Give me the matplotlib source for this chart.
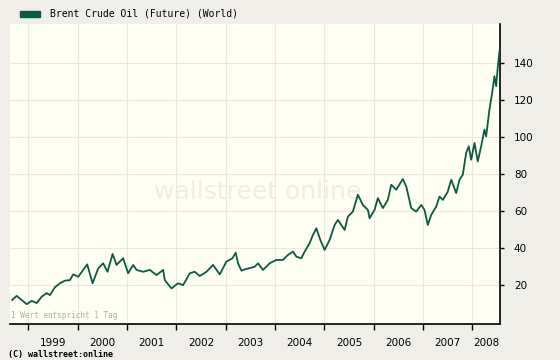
import matplotlib
matplotlib.use("Agg")
import matplotlib.pyplot as plt
import numpy as np

# values (decimal year, USD)
dates = [1998.676, 1998.765, 1998.968, 1999.069, 1999.170, 1999.271, 1999.372, 1999.439,
         1999.540, 1999.642, 1999.743, 1999.844, 1999.911, 2000.012, 2000.113, 2000.194,
         2000.304, 2000.417, 2000.518, 2000.607, 2000.709, 2000.789, 2000.923, 2001.024,
         2001.126, 2001.194, 2001.328, 2001.464, 2001.599, 2001.733, 2001.767, 2001.903,
         2002.036, 2002.138, 2002.273, 2002.374, 2002.476, 2002.611, 2002.745, 2002.881,
         2003.016, 2003.138, 2003.204, 2003.251, 2003.320, 2003.387, 2003.589, 2003.656,
         2003.757, 2003.893, 2004.028, 2004.162, 2004.263, 2004.364, 2004.433, 2004.534,
         2004.601, 2004.702, 2004.769, 2004.838, 2004.919, 2005.006, 2005.107, 2005.209,
         2005.275, 2005.411, 2005.478, 2005.579, 2005.680, 2005.781, 2005.883, 2005.917,
         2006.018, 2006.085, 2006.186, 2006.287, 2006.356, 2006.457, 2006.591, 2006.660,
         2006.761, 2006.862, 2006.964, 2007.030, 2007.097, 2007.166, 2007.267, 2007.334,
         2007.401, 2007.502, 2007.571, 2007.672, 2007.739, 2007.806, 2007.874, 2007.927,
         2007.976, 2008.043, 2008.109, 2008.178, 2008.245, 2008.279, 2008.346, 2008.401,
         2008.447, 2008.482, 2008.514, 2008.549]
prices = [12.0, 14.2, 9.7, 11.5, 10.3, 13.7, 15.7, 14.6,
          18.8, 21.0, 22.4, 22.7, 25.8, 24.5, 28.2, 31.2,
          21.0, 29.0, 31.8, 27.2, 36.8, 30.9, 34.5, 26.4,
          30.9, 28.2, 27.2, 28.2, 25.4, 28.2, 22.7, 18.2,
          21.0, 20.0, 26.4, 27.2, 24.9, 27.2, 30.9, 25.8,
          32.7, 34.5, 37.5, 31.8, 27.8, 28.5, 29.9, 31.8,
          28.2, 31.8, 33.6, 33.6, 36.3, 38.1, 35.4, 34.5,
          38.1, 42.6, 47.1, 50.7, 44.4, 39.0, 44.4, 52.5,
          55.2, 49.8, 57.0, 59.7, 68.8, 63.3, 60.6, 56.1,
          60.6, 67.0, 61.6, 66.0, 74.2, 71.5, 77.3, 73.3,
          61.6, 59.7, 63.3, 60.6, 52.5, 57.9, 62.4, 67.8,
          66.0, 70.5, 76.9, 69.7, 76.9, 79.6, 91.3, 94.9,
          87.7, 96.8, 86.8, 95.0, 104.0, 100.3, 114.8, 123.8,
          132.8, 127.4, 137.4, 146.4]
years = [1999, 2000, 2001, 2002, 2003, 2004, 2005, 2006, 2007, 2008]
yticks = [20, 40, 60, 80, 100, 120, 140]

x_start, x_end = 1998.63, 2008.56
line_col = "#0b5a45"

fig = plt.figure(figsize=(5.6, 3.6), dpi=100)
fig.patch.set_facecolor("#efeee9")
ax = fig.add_axes([10 / 560, 36 / 360, 490 / 560, 300 / 360])
ax.set_facecolor("#fffff4")

# watermark
ax.text(0.505, 0.44, "wallstreet online", transform=ax.transAxes, ha="center", va="center",
        fontsize=18, color="#efefe6", family="DejaVu Sans", zorder=1)

ax.plot(dates, prices, color=line_col, lw=1.3, zorder=3)

ax.set_xlim(x_start, x_end)
ax.set_ylim(-1, 161)

ax.set_xticks(years)
ax.set_xticklabels([])
mids = [(y + min(y + 1, x_end)) / 2 for y in years]
ax.set_xticks(mids, minor=True)
ax.set_xticklabels([str(y) for y in years], minor=True, fontsize=7.5, family="DejaVu Sans")
ax.tick_params(axis="x", which="major", direction="out", length=4, width=1, color="black")
ax.tick_params(axis="x", which="minor", length=0, pad=10)

ax.yaxis.tick_right()
ax.set_yticks(yticks)
ax.set_yticklabels([str(v) for v in yticks], fontsize=7.5, family="DejaVu Sans")
ax.tick_params(axis="y", direction="out", length=3, width=1, pad=7, color="black")

ax.grid(True, which="major", color="#e9e9dc", lw=0.8, zorder=0)
ax.set_axisbelow(True)
for s in ["left", "top"]:
    ax.spines[s].set_visible(False)
for s in ["bottom", "right"]:
    ax.spines[s].set_color("black")
    ax.spines[s].set_linewidth(1.2)

ax.text(0.002, 0.012, "1 Wert entspricht 1 Tag", transform=ax.transAxes, fontsize=5.5,
        color="#b0b0b0", family="DejaVu Sans Mono", va="bottom", ha="left")

# legend
fig.patches.append(plt.Rectangle((20 / 560, 1 - 17 / 360), 20 / 560, 6 / 360,
                                 transform=fig.transFigure, color=line_col))
fig.text(50 / 560, 1 - 14 / 360, "Brent Crude Oil (Future) (World)", fontsize=7,
         family="DejaVu Sans Mono", va="center", ha="left")

fig.text(8 / 560, 1 - 354 / 360, "(C) wallstreet:online", fontsize=6, fontweight="bold",
         family="DejaVu Sans Mono", va="center", ha="left")

fig.savefig("out.png", dpi=100, facecolor=fig.get_facecolor())
